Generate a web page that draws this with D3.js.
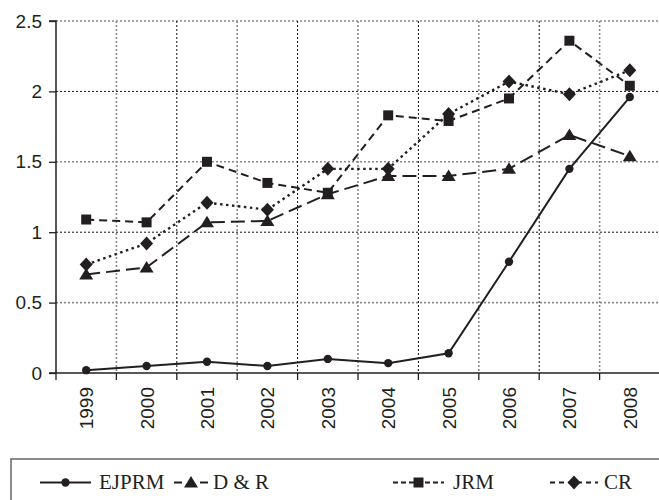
<!DOCTYPE html>
<html>
<head>
<meta charset="utf-8">
<script src="https://cdn.jsdelivr.net/npm/d3@7"></script>
<style>
  body { margin: 0; background: #fff; }
  svg { display: block; }
</style>
</head>
<body>
<svg width="659" height="500"></svg>
<script>
const years = ['1999', '2000', '2001', '2002', '2003', '2004', '2005', '2006', '2007', '2008'];
const yTicks = [0, 0.5, 1, 1.5, 2, 2.5];

const ejprm = [0.02, 0.05, 0.08, 0.05, 0.1, 0.07, 0.14, 0.79, 1.45, 1.96];
const dr = [0.70, 0.75, 1.07, 1.08, 1.27, 1.40, 1.40, 1.45, 1.69, 1.54];
const jrm = [1.09, 1.07, 1.50, 1.35, 1.28, 1.83, 1.79, 1.95, 2.36, 2.04];
const cr = [0.77, 0.92, 1.21, 1.16, 1.45, 1.45, 1.84, 2.07, 1.98, 2.15];

const seriesNames = ['EJPRM', 'D & R', 'JRM', 'CR'];

const ink = '#231f20';
const sans = '"Liberation Sans", Arial, Helvetica, sans-serif';
const serif = '"Liberation Serif", "Times New Roman", Times, serif';
const svg = d3.select('svg');

let x = d3.scaleBand().domain(years).range([56, 660]).padding(0);
let y = d3.scaleLinear().domain([0, 2.5]).range([373, 21]);

// grid, alternating grey and black dotted lines
let grid = svg.append('g');
yTicks.slice(1).forEach((t, i) => {
  grid.append('line')
    .attr('x1', 56).attr('x2', 660)
    .attr('y1', y(t)).attr('y2', y(t))
    .attr('stroke', i % 2 == 0 ? '#8a8a8a' : '#111')
    .attr('stroke-width', i % 2 == 0 ? 1.6 : 1)
    .attr('stroke-dasharray', '2,2');
});
years.slice(1).forEach((yr, i) => {
  grid.append('line')
    .attr('x1', x(yr)).attr('x2', x(yr))
    .attr('y1', y(2.5)).attr('y2', y(0))
    .attr('stroke', i % 2 == 0 ? '#8a8a8a' : '#111')
    .attr('stroke-width', i % 2 == 0 ? 1.6 : 1)
    .attr('stroke-dasharray', '2,2');
});

// y axis
svg.append('g')
  .attr('transform', 'translate(56,0)')
  .call(d3.axisLeft(y).tickValues(yTicks).tickFormat((d) => String(d)).tickSize(7).tickPadding(7))
  .call((g) => g.attr('font-family', sans).attr('font-size', 19))
  .call((g) => g.select('.domain').attr('stroke', ink).attr('stroke-width', 1.5).attr('d', `M-7,${y(2.5)}H0V${y(0)}`))
  .call((g) => g.selectAll('.tick line').attr('stroke', ink).attr('stroke-width', 1.3))
  .call((g) => g.selectAll('.tick text').attr('fill', ink));

// x axis: line, ticks at band edges, labels rotated at band centres
let xa = svg.append('g');
xa.append('line')
  .attr('x1', 49).attr('x2', 660)
  .attr('y1', y(0)).attr('y2', y(0))
  .attr('stroke', ink).attr('stroke-width', 1.5);
years.forEach((yr) => {
  xa.append('line')
    .attr('x1', x(yr)).attr('x2', x(yr))
    .attr('y1', y(0)).attr('y2', y(0) + 7)
    .attr('stroke', ink).attr('stroke-width', 1.3);
  xa.append('text')
    .attr('transform', `translate(${x(yr) + x.bandwidth() / 2 + 7},387) rotate(-90)`)
    .attr('text-anchor', 'end')
    .attr('font-family', sans)
    .attr('font-size', 19)
    .attr('fill', ink)
    .text(yr);
});

// series
const styles = [
  { data: ejprm, dash: null, marker: 'circle' },
  { data: dr, dash: '14,6', marker: 'triangle' },
  { data: jrm, dash: '8,5', marker: 'square' },
  { data: cr, dash: '2.5,3.5', marker: 'diamond' }
];

function markerPath(kind) {
  if (kind == 'circle') return d3.symbol(d3.symbolCircle, 55)();
  if (kind == 'triangle') return 'M0,-6.5L7,5L-7,5Z';
  if (kind == 'square') return 'M-5,-5H5V5H-5Z';
  return 'M0,-7L6.5,0L0,7L-6.5,0Z';
}

let line = d3.line()
  .x((d, i) => x(years[i]) + x.bandwidth() / 2)
  .y((d) => y(d));

styles.forEach((s) => {
  svg.append('path')
    .attr('d', line(s.data))
    .attr('fill', 'none')
    .attr('stroke', ink)
    .attr('stroke-width', s.marker == 'diamond' ? 2.4 : 2)
    .attr('stroke-dasharray', s.dash);
  s.data.forEach((v, i) => {
    svg.append('path')
      .attr('d', markerPath(s.marker))
      .attr('transform', `translate(${x(years[i]) + x.bandwidth() / 2},${y(v)})`)
      .attr('fill', ink);
  });
});

// legend
let legend = svg.append('g');
legend.append('rect')
  .attr('x', 11).attr('y', 459).attr('width', 700).attr('height', 100)
  .attr('fill', 'none').attr('stroke', '#666').attr('stroke-width', 1.5);

const legendItems = [
  { x1: 40, x2: 91, dash: null, tx: 99 },
  { x1: 174, x2: 208, dash: '8,18,8', tx: 213 },
  { x1: 393, x2: 444, dash: '5,3', tx: 453 },
  { x1: 550, x2: 598, dash: '5,4', tx: 604 }
];
legendItems.forEach((d, i) => {
  legend.append('line')
    .attr('x1', d.x1).attr('x2', d.x2)
    .attr('y1', 482.5).attr('y2', 482.5)
    .attr('stroke', ink).attr('stroke-width', 2)
    .attr('stroke-dasharray', d.dash);
  legend.append('path')
    .attr('d', markerPath(styles[i].marker))
    .attr('transform', `translate(${(d.x1 + d.x2) / 2},482.5)`)
    .attr('fill', ink);
  legend.append('text')
    .attr('x', d.tx).attr('y', 489)
    .attr('font-family', serif)
    .attr('font-size', 21)
    .attr('fill', ink)
    .text(seriesNames[i]);
});
</script>
</body>
</html>
